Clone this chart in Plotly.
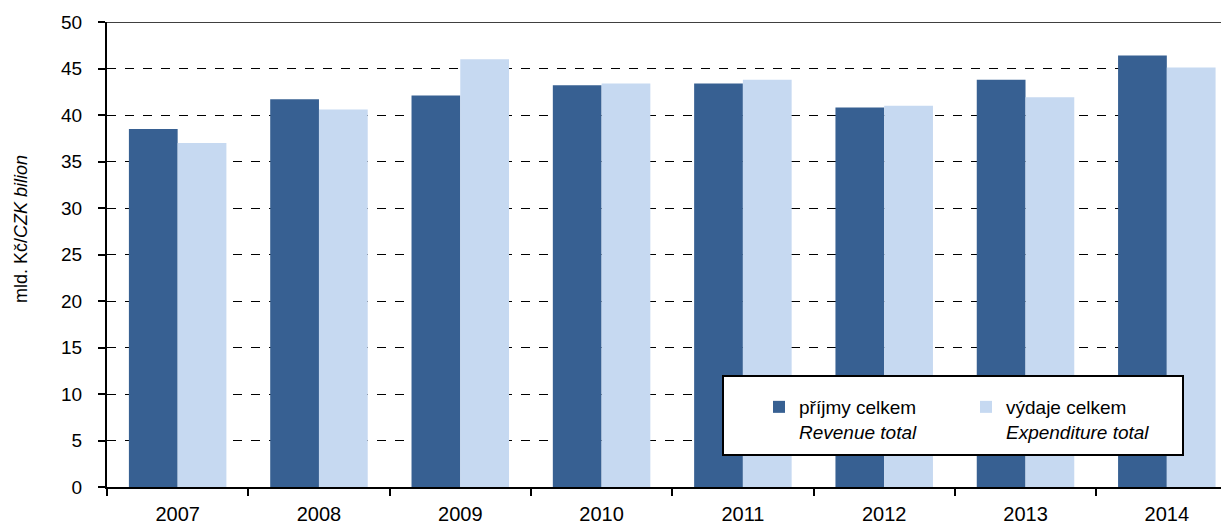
import plotly.graph_objects as go

years = ["2007", "2008", "2009", "2010", "2011", "2012", "2013", "2014"]
revenue = [38.5, 41.7, 42.1, 43.2, 43.4, 40.8, 43.8, 46.4]
expenditure = [37.0, 40.6, 46.0, 43.4, 43.8, 41.0, 41.9, 45.1]
y_ticks = [0, 5, 10, 15, 20, 25, 30, 35, 40, 45, 50]

FONT = "Liberation Sans, Arial, sans-serif"
DARK = "#376092"
LIGHT = "#C6D9F1"

fig = go.Figure()
fig.add_trace(go.Bar(x=years, y=revenue, name="příjmy celkem<br><i>Revenue total</i>",
                     marker=dict(color=DARK, line=dict(width=0))))
fig.add_trace(go.Bar(x=years, y=expenditure, name="výdaje celkem<br><i>Expenditure total</i>",
                     marker=dict(color=LIGHT, line=dict(width=0))))

# page body offset of 8px is compensated here
OFF = 8
W, H = 1229 - OFF, 526 - OFF
L = 107 - OFF
T = 22 - OFF
B = H - (487 - OFF)
pw = W - L
ph = H - T - B

def px(x):  # viewport x -> paper
    return (x - OFF - L) / pw

def py(y):  # viewport y -> paper
    return (H - B - (y - OFF)) / ph

fig.add_shape(type="rect", xref="paper", yref="paper",
              x0=px(723), x1=px(1183), y0=py(455), y1=py(376),
              fillcolor="white", line=dict(color="black", width=2), layer="above")
fig.add_shape(type="line", xref="paper", yref="y", x0=0, x1=1, y0=50, y1=50,
              line=dict(color="black", width=1.5), layer="above")

fig.add_annotation(text="mld. Kč/<i>CZK bilion</i>", xref="paper", yref="paper",
                   x=px(21), y=py(229), xanchor="center", yanchor="middle",
                   textangle=-90, showarrow=False,
                   font=dict(size=18, family=FONT, color="black"))

fig.update_layout(
    width=W, height=H,
    margin=dict(l=L, r=0, t=T, b=B, autoexpand=False),
    plot_bgcolor="white", paper_bgcolor="white",
    barmode="group", bargap=0.31, bargroupgap=0,
    font=dict(family=FONT, color="black"),
    showlegend=True,
    legend=dict(orientation="h", x=px(759), y=py(388), xanchor="left", yanchor="top",
                bgcolor="rgba(0,0,0,0)", borderwidth=0, valign="top",
                font=dict(size=19, family=FONT, color="black"),
                entrywidth=162, entrywidthmode="pixels", traceorder="normal",
                itemclick=False),
    xaxis=dict(range=[-0.5, 7.44], showgrid=False, showline=True, linecolor="black", linewidth=2,
               ticks="outside", tickson="boundaries", ticklen=7, tickwidth=2, tickcolor="black",
               ticklabelstandoff=8,
               tickfont=dict(size=20, family=FONT, color="black"), fixedrange=True),
    yaxis=dict(range=[0, 50], tickvals=y_ticks, showgrid=True, gridcolor="black", griddash="dash",
               gridwidth=1, zeroline=False, showline=True, linecolor="black", linewidth=2,
               ticks="outside", ticklen=7, tickwidth=2, tickcolor="black",
               ticklabelstandoff=12,
               tickfont=dict(size=19, family=FONT, color="black")),
)

fig.write_html("out.html")
